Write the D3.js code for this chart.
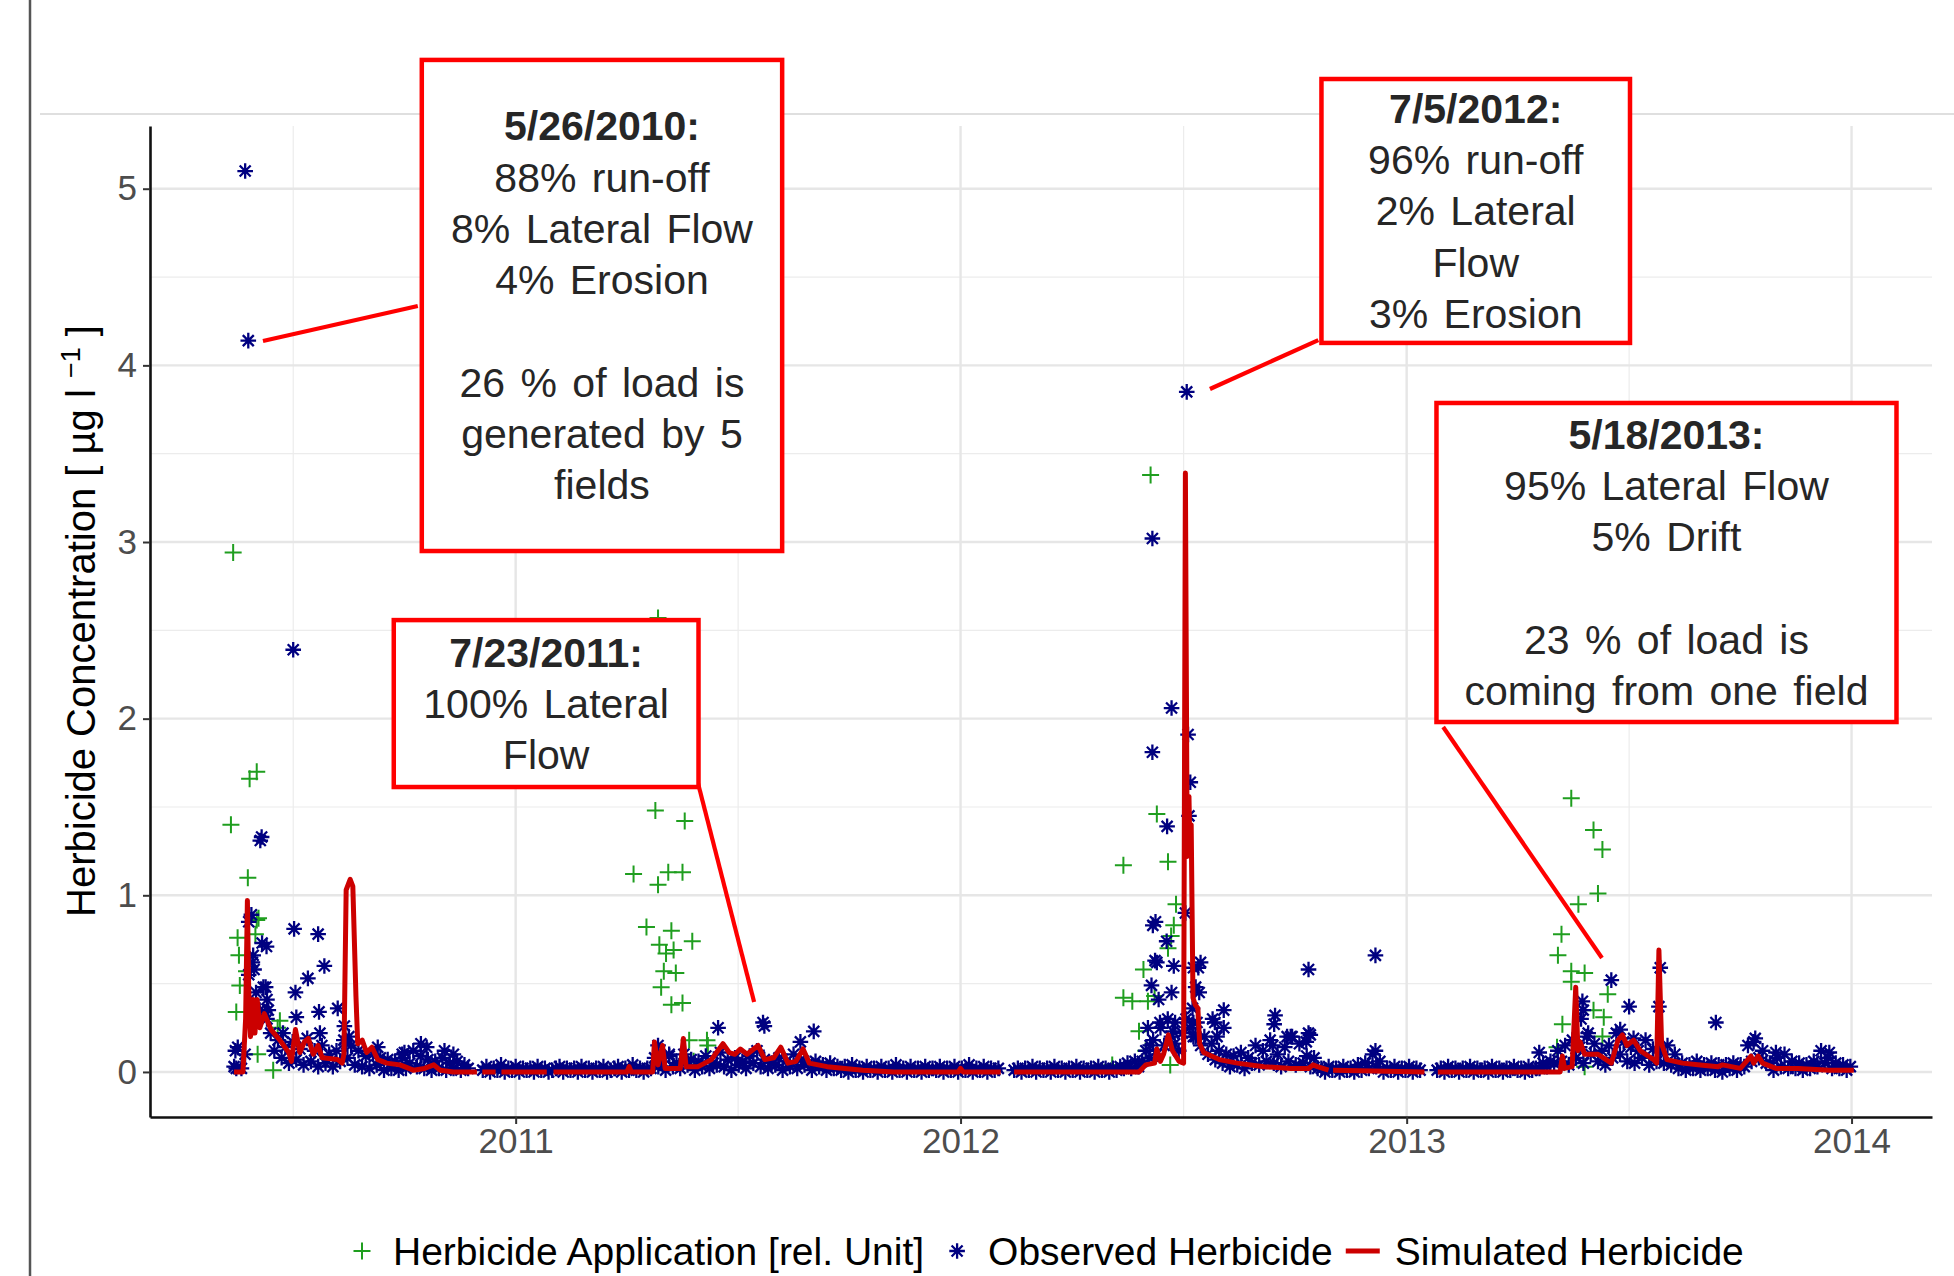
<!DOCTYPE html>
<html>
<head>
<meta charset="utf-8">
<script src="https://cdn.jsdelivr.net/npm/d3@7"></script>
<style>
  body { margin: 0; background: #fff; }
  svg text { font-family: "Liberation Sans", Arial, Helvetica, sans-serif; }
</style>
</head>
<body>
<div class="render"></div>
<script>
// ---- data (decimal years, µg/l) ----
// observed herbicide: isolated points
var obsT = [2010.392,2010.399,2010.500,2010.426,2010.429,2010.406,2010.400,2010.440,2010.410,2010.412,2010.430,2010.438,2010.441,2010.444,
  2010.502,2010.556,2010.570,2010.533,2010.505,2010.558,2010.600,2010.507,2010.477,2010.560,2010.615,2010.625,2010.690,2010.787,2010.800,
  2010.745,2010.860,2010.370,2010.372,2010.436,2010.620,2010.840,2010.750,
  2011.320,2011.455,2011.556,2011.559,2011.670,2011.640,2011.345,
  2012.507,2012.430,2012.473,2012.430,2012.510,2012.515,2012.463,2012.512,2012.504,2012.431,2012.437,2012.462,2012.440,2012.478,2012.533,
  2012.538,2012.428,2012.535,2012.473,2012.444,2012.590,2012.565,2012.705,2012.703,2012.780,2012.930,2012.740,2012.780,2012.930,2012.590,
  2012.436,2012.520,2012.522,2012.527,2012.570,2012.575,2012.447,2012.420,2012.425,2012.476,2012.480,2012.732,2012.700,2012.784,2012.775,
  2012.527,2012.522,
  2013.460,2013.395,2013.397,2013.392,2013.500,2013.570,2013.567,2013.695,2013.408,2013.480,2013.510,2013.298,2013.780,2013.950,2013.830];
var obsV = [5.10,4.14,2.39,1.31,1.33,0.89,0.85,0.71,0.66,0.58,0.73,0.48,0.41,0.35,
  0.81,0.78,0.60,0.53,0.45,0.34,0.36,0.31,0.22,0.22,0.26,0.20,0.14,0.16,0.14,
  0.10,0.10,0.12,0.02,0.34,0.16,0.12,0.11,
  0.15,0.25,0.28,0.26,0.23,0.17,0.10,
  3.85,3.02,2.06,1.81,1.91,1.64,1.39,1.45,0.90,0.83,0.85,0.74,0.62,0.60,0.59,
  0.62,0.49,0.45,0.45,0.41,0.35,0.30,0.32,0.27,0.58,0.66,0.20,0.22,0.12,0.25,
  0.63,0.36,0.28,0.20,0.28,0.20,0.28,0.25,0.15,0.23,0.16,0.20,0.15,0.21,0.17,
  0.48,0.59,
  0.52,0.40,0.35,0.30,0.37,0.59,0.37,0.28,0.22,0.24,0.19,0.11,0.17,0.11,0.11];

// observed herbicide: the dense near-zero band, one reading every 3 days per run
var bandStart = ["2010-05-15", "2010-12-05", "2012-02-14", "2013-01-26"];
var bandStep = 3;
var band1 = [0.03,0.14,0.02,0.10,0.55,0.62,0.45,0.35,0.48,0.30,0.22,0.12,0.18,0.08,0.14,0.05,0.17,0.07,0.13,0.04,
  0.19,0.06,0.12,0.03,0.15,0.05,0.10,0.03,0.12,0.06,0.18,0.08,0.15,0.04,0.12,0.03,0.09,0.02,0.10,0.04,
  0.08,0.01,0.07,0.02,0.06,0.01,0.08,0.02,0.05,0.12,0.03,0.09,0.02,0.07,0.01,0.06,0.02,0.08,0.01,0.05,
  0.02,0.06,0.01,0.04,0.02];
var band2 = [0.01,0.03,0.00,0.02,0.01,0.04,0.00,0.02,0.01,0.03,0.00,0.02,0.01,0.02,0.00,0.03,0.01,0.02,0.00,0.01,
  0.02,0.03,0.00,0.02,0.01,0.02,0.00,0.03,0.01,0.02,0.00,0.02,0.01,0.03,0.00,0.01,0.02,0.03,0.00,0.02,
  0.01,0.04,0.01,0.02,0.00,0.02,
  0.02,0.08,0.03,0.06,0.01,0.09,0.03,0.05,0.02,0.10,0.04,0.07,0.01,0.06,0.03,0.09,0.02,0.05,0.04,0.11,
  0.03,0.07,0.01,0.08,0.04,0.06,0.02,0.09,0.05,0.12,0.03,0.07,0.02,0.05,0.04,0.08,0.01,0.06,0.03,0.10,
  0.02,0.07,0.04,0.05,0.01,0.06,0.03,0.04,0.01,0.05,0.02,0.03,
  0.01,0.03,0.00,0.04,0.01,0.02,0.00,0.03,0.01,0.02,0.00,0.03,0.01,0.02,0.00,0.04,0.01,0.02,0.00,0.03,
  0.01,0.02,0.00,0.03,0.01,0.02,0.01,0.03,0.00,0.02,0.01,0.03,0.00,0.02,0.01,0.04,0.00,0.02,0.01,0.03,
  0.00,0.02,0.01,0.02];
var band3 = [0.01,0.02,0.00,0.02,0.01,0.03,0.00,0.02,0.01,0.02,0.00,0.03,0.01,0.02,0.00,0.02,0.01,0.03,0.00,0.02,
  0.01,0.02,0.00,0.03,0.01,0.02,0.00,0.02,0.01,0.03,0.02,0.05,0.02,0.06,0.03,
  0.06,0.12,0.08,0.18,0.10,0.25,0.15,0.30,0.20,0.28,0.12,0.22,
  0.30,0.25,0.20,0.28,0.15,0.20,0.10,0.16,0.07,0.12,0.05,0.10,
  0.03,0.09,0.04,0.11,0.02,0.08,0.05,0.15,0.04,0.12,0.06,0.18,0.05,0.10,0.03,0.14,0.06,0.20,0.04,0.16,
  0.05,0.09,0.03,0.08,0.02,
  0.02,0.00,0.03,0.01,0.02,0.00,0.03,0.01,0.02,0.00,0.04,0.01,0.05,0.02,0.10,0.03,0.06,0.00,0.02,0.01,
  0.03,0.00,0.02,0.01,0.03,0.00,0.02,0.01];
var band4 = [0.01,0.02,0.00,0.03,0.01,0.02,0.00,0.02,0.01,0.03,0.00,0.02,0.01,0.02,0.00,0.03,0.01,0.02,0.00,0.02,
  0.01,0.03,0.01,0.02,0.00,0.03,0.01,0.02,0.02,0.05,0.03,0.06,
  0.05,0.12,0.06,0.15,0.04,0.18,0.08,0.14,0.05,0.20,0.10,0.16,0.06,0.12,0.04,0.15,0.08,0.22,0.10,0.17,
  0.06,0.14,0.05,0.12,0.08,0.18,0.04,0.13,0.06,0.11,0.05,0.15,0.04,0.10,
  0.02,0.05,0.01,0.04,0.02,0.06,0.01,0.04,0.02,0.05,0.01,0.04,0.00,0.04,0.02,0.05,0.01,0.04,0.03,
  0.15,0.06,0.19,0.08,0.12,0.05,
  0.05,0.01,0.08,0.03,0.10,0.02,0.06,0.02,0.05,0.01,0.04,0.02,0.06,0.03,0.12,0.05,0.08,0.02,0.05,0.02,
  0.04,0.01,0.03];
var bandVals = [band1, band2, band3, band4];

// herbicide application [rel. unit]
var appT = [2010.365,2010.360,2010.402,2010.418,2010.398,2010.375,2010.378,2010.418,2010.422,2010.415,2010.380,2010.372,2010.395,
  2010.470,2010.465,2010.420,2010.455,
  2011.320,2011.314,2011.380,2011.265,2011.320,2011.343,2011.375,2011.294,2011.350,2011.397,2011.323,2011.338,2011.355,2011.333,
  2011.360,2011.327,2011.350,2011.375,2011.390,2011.430,2011.432,2011.400,
  2012.426,2012.365,2012.465,2012.440,2012.483,2012.478,2012.472,2012.465,2012.410,2012.365,2012.385,2012.420,2012.435,2012.400,
  2012.415,2012.470,2012.340,
  2013.370,2013.420,2013.440,2013.430,2013.386,2013.348,2013.340,2013.370,2013.400,2013.370,2013.452,2013.420,2013.443,2013.350,
  2013.338,2013.440,2013.400];
var appV = [2.94,1.40,1.66,1.70,1.10,0.76,0.66,0.86,0.87,0.78,0.49,0.34,0.57,
  0.29,0.25,0.10,0.01,
  2.57,1.48,1.42,1.12,1.06,1.13,1.13,0.82,0.80,0.74,0.72,0.67,0.69,0.57,
  0.56,0.48,0.38,0.39,0.18,0.18,0.15,0.06,
  3.38,1.17,1.19,1.46,0.95,0.83,0.77,0.70,0.58,0.42,0.40,0.40,0.43,0.23,
  0.12,0.04,0.04,
  1.55,1.37,1.26,1.01,0.95,0.78,0.66,0.57,0.56,0.51,0.44,0.35,0.31,0.27,
  0.14,0.20,0.03];

// simulated herbicide (null = gap in the series)
var simT = [2010.367,2010.387,2010.393,2010.397,2010.400,2010.404,2010.410,2010.414,2010.419,2010.425,2010.435,2010.450,2010.470,
  2010.490,2010.496,2010.505,2010.515,2010.525,2010.534,2010.545,2010.556,2010.565,2010.600,2010.610,2010.614,2010.619,2010.628,
  2010.634,2010.641,2010.645,2010.655,2010.665,2010.677,2010.690,2010.710,2010.740,2010.770,2010.795,2010.816,2010.830,2010.860,
  2010.913,null,
  2010.925,2010.955,null,
  2010.968,2011.070,null,
  2011.085,2011.250,2011.255,2011.260,2011.308,2011.312,2011.320,2011.330,2011.336,2011.370,2011.377,2011.383,2011.410,2011.440,
  2011.466,2011.480,2011.493,2011.505,2011.520,2011.545,2011.560,2011.580,2011.596,2011.612,2011.630,2011.646,2011.660,2011.700,
  2011.780,2011.850,2011.995,2012.000,2012.006,2012.090,null,
  2012.120,2012.400,2012.415,2012.435,2012.440,2012.448,2012.455,2012.466,2012.475,2012.490,2012.500,2012.504,2012.508,2012.512,
  2012.514,2012.517,2012.521,2012.526,2012.532,2012.536,2012.545,2012.580,2012.620,2012.680,2012.740,2012.780,2012.790,2012.800,
  2012.825,null,
  2012.835,2013.040,null,
  2013.070,2013.345,2013.350,2013.355,2013.372,2013.380,2013.385,2013.390,2013.400,2013.430,2013.460,2013.475,2013.485,2013.495,
  2013.510,2013.525,2013.555,2013.562,2013.567,2013.573,2013.585,2013.620,2013.660,2013.700,2013.710,2013.750,2013.774,2013.780,
  2013.790,2013.800,2013.830,2013.880,2013.950,2014.005];
var simV = [0.00,0.00,0.30,0.97,0.46,0.20,0.41,0.22,0.41,0.25,0.33,0.24,0.18,
  0.11,0.06,0.24,0.11,0.17,0.19,0.10,0.15,0.08,0.07,0.05,0.10,1.03,1.09,
  1.05,0.43,0.16,0.18,0.11,0.14,0.07,0.05,0.04,0.01,0.02,0.04,0.01,0.00,
  0.00,null,
  0.00,0.00,null,
  0.00,0.00,null,
  0.00,0.00,0.03,0.00,0.00,0.17,0.04,0.15,0.02,0.02,0.19,0.03,0.03,0.07,
  0.16,0.11,0.10,0.13,0.10,0.15,0.07,0.08,0.14,0.05,0.06,0.13,0.05,0.03,
  0.01,0.00,0.00,0.02,0.00,0.00,null,
  0.00,0.00,0.04,0.05,0.13,0.06,0.10,0.21,0.12,0.06,0.05,3.39,1.22,1.56,
  1.28,1.40,0.42,0.38,0.36,0.16,0.11,0.07,0.05,0.03,0.02,0.02,0.04,0.03,
  0.01,null,
  0.01,0.00,null,
  0.00,0.00,0.09,0.02,0.03,0.48,0.12,0.17,0.10,0.10,0.05,0.18,0.21,0.15,
  0.18,0.12,0.07,0.05,0.69,0.16,0.07,0.05,0.04,0.03,0.04,0.02,0.09,0.05,
  0.09,0.05,0.02,0.02,0.01,0.01];

var yTicks = [0, 1, 2, 3, 4, 5];
var yMinor = [0.5, 1.5, 2.5, 3.5, 4.5];
var xTicks = [2011, 2012, 2013, 2014];
var xMinor = [2010.5, 2011.5, 2012.5, 2013.5];

// annotations: box corners and callout ends in data units
var annX0 = [2010.789, 2010.726, 2012.809, 2013.067];
var annX1 = [2011.599, 2011.411, 2013.502, 2014.101];
var annTop = [5.729, 2.558, 5.621, 3.787];
var annBottom = [2.949, 1.613, 4.127, 1.981];
var annText = [
  ["5/26/2010:", "88% run-off", "8% Lateral Flow", "4% Erosion", "", "26 % of load is", "generated by 5", "fields"],
  ["7/23/2011:", "100% Lateral", "Flow"],
  ["7/5/2012:", "96% run-off", "2% Lateral", "Flow", "3% Erosion"],
  ["5/18/2013:", "95% Lateral Flow", "5% Drift", "", "23 % of load is", "coming from one field"]
];
var callT0 = [2010.780, 2011.408, 2012.802, 2013.082];
var callV0 = [4.336, 1.653, 4.143, 1.953];
var callT1 = [2010.432, 2011.536, 2012.559, 2013.439];
var callV1 = [4.138, 0.396, 3.866, 0.645];

var legendLabels = ["Herbicide Application [rel. Unit]", "Observed Herbicide", "Simulated Herbicide"];

// ---- drawing ----
var W = 1954, H = 1276;
var green = "#1f9e1f", navy = "#000080", simRed = "#cc0000", callRed = "#ff0000";

function yr(t) {
  var y0 = Math.floor(t);
  var a = new Date(y0, 0, 1), b = new Date(y0 + 1, 0, 1);
  return new Date(+a + (t - y0) * (b - a));
}

var x = d3.scaleTime().domain([new Date(2010, 2, 7), new Date(2014, 2, 8)]).range([150, 1932]);
var y = d3.scaleLinear().domain([-0.255, 5.355]).range([1117, 126]);

var svg = d3.select(".render").append("svg").attr("width", W).attr("height", H);
svg.append("rect").attr("width", W).attr("height", H).attr("fill", "#fff");

// slide frame
svg.append("line").attr("x1", 30).attr("x2", 30).attr("y1", 0).attr("y2", H).attr("stroke", "#555").attr("stroke-width", 2.5);
svg.append("line").attr("x1", 40).attr("x2", W).attr("y1", 114).attr("y2", 114).attr("stroke", "#d4d4d4").attr("stroke-width", 1.5);

// grid
var grid = svg.append("g");
grid.selectAll(".ymin").data(yMinor).enter().append("line")
  .attr("x1", 150).attr("x2", 1932).attr("y1", function (d) { return y(d); }).attr("y2", function (d) { return y(d); })
  .attr("stroke", "#ececec").attr("stroke-width", 1.2);
grid.selectAll(".xmin").data(xMinor).enter().append("line")
  .attr("y1", 126).attr("y2", 1117).attr("x1", function (d) { return x(yr(d)); }).attr("x2", function (d) { return x(yr(d)); })
  .attr("stroke", "#ececec").attr("stroke-width", 1.2);
grid.selectAll(".ymaj").data(yTicks).enter().append("line")
  .attr("x1", 150).attr("x2", 1932).attr("y1", function (d) { return y(d); }).attr("y2", function (d) { return y(d); })
  .attr("stroke", "#e6e6e6").attr("stroke-width", 2.4);
grid.selectAll(".xmaj").data(xTicks).enter().append("line")
  .attr("y1", 126).attr("y2", 1117).attr("x1", function (d) { return x(yr(d)); }).attr("x2", function (d) { return x(yr(d)); })
  .attr("stroke", "#e6e6e6").attr("stroke-width", 2.4);

// axes
var yAxis = d3.axisLeft(y).tickValues(yTicks).tickFormat(d3.format("d")).tickSizeInner(7).tickSizeOuter(0).tickPadding(6);
var xAxis = d3.axisBottom(x).tickValues(xTicks.map(yr)).tickFormat(d3.timeFormat("%Y")).tickSizeInner(7).tickSizeOuter(0).tickPadding(4);
var gy = svg.append("g").attr("transform", "translate(150,0)").call(yAxis);
var gx = svg.append("g").attr("transform", "translate(0,1117)").call(xAxis);
[gx, gy].forEach(function (g) {
  g.select(".domain").attr("stroke", "#111").attr("stroke-width", 2.6);
  g.selectAll(".tick line").attr("stroke", "#333").attr("stroke-width", 2);
  g.selectAll(".tick text").attr("fill", "#4d4d4d").style("font-size", "35px")
    .style("font-family", "'Liberation Sans', Arial, sans-serif");
});

// y title
var yt = svg.append("text").attr("transform", "translate(95,621) rotate(-90)").attr("text-anchor", "middle")
  .style("font-size", "40px").attr("fill", "#000");
yt.append("tspan").text("Herbicide Concentration [ \u00b5g l ");
yt.append("tspan").text("\u22121").style("font-size", "27px").attr("dy", -15);
yt.append("tspan").text(" ]").style("font-size", "40px").attr("dy", 15);

// series
var appData = appT.map(function (t, i) { return { date: yr(t), v: appV[i] }; });
var obsData = obsT.map(function (t, i) { return { date: yr(t), v: obsV[i] }; });
var parseDay = d3.timeParse("%Y-%m-%d");
bandVals.forEach(function (vals, s) {
  var start = parseDay(bandStart[s]);
  vals.forEach(function (v, i) {
    obsData.push({ date: d3.timeDay.offset(start, i * bandStep), v: v });
  });
});
var simData = simT.map(function (t, i) { return { date: t === null ? null : yr(t), v: simV[i] }; });

var plusPath = "M-8.5,0H8.5M0,-8.5V8.5";
var starPath = "M-7.8,0H7.8M0,-7.8V7.8M-5.5,-5.5L5.5,5.5M-5.5,5.5L5.5,-5.5";

svg.append("g").selectAll("path").data(appData).enter().append("path")
  .attr("transform", function (d) { return "translate(" + x(d.date) + "," + y(d.v) + ")"; })
  .attr("d", plusPath).attr("fill", "none").attr("stroke", green).attr("stroke-width", 2);

svg.append("g").selectAll("path").data(obsData).enter().append("path")
  .attr("transform", function (d) { return "translate(" + x(d.date) + "," + y(d.v) + ")"; })
  .attr("d", starPath).attr("fill", "none").attr("stroke", navy).attr("stroke-width", 2.3);

var simLine = d3.line()
  .defined(function (d) { return d.v !== null; })
  .x(function (d) { return x(d.date); })
  .y(function (d) { return y(d.v); });
svg.append("path").datum(simData).attr("d", simLine).attr("fill", "none")
  .attr("stroke", simRed).attr("stroke-width", 5).attr("stroke-linejoin", "round").attr("stroke-linecap", "butt");

// callouts
var ann = svg.append("g");
callT0.forEach(function (t, i) {
  ann.append("line")
    .attr("x1", x(yr(t))).attr("y1", y(callV0[i]))
    .attr("x2", x(yr(callT1[i]))).attr("y2", y(callV1[i]))
    .attr("stroke", callRed).attr("stroke-width", 4.2);
});
var lineH = 51.3;
annText.forEach(function (lines, i) {
  var bx0 = x(yr(annX0[i])), bx1 = x(yr(annX1[i]));
  var by0 = y(annTop[i]), by1 = y(annBottom[i]);
  ann.append("rect").attr("x", bx0).attr("y", by0).attr("width", bx1 - bx0).attr("height", by1 - by0)
    .attr("fill", "#fff").attr("stroke", callRed).attr("stroke-width", 4.5);
  var cx = (bx0 + bx1) / 2;
  var first = (by0 + by1) / 2 - (lines.length - 1) * lineH / 2;
  lines.forEach(function (s, k) {
    if (!s) return;
    ann.append("text").attr("x", cx).attr("y", first + k * lineH).attr("dy", "0.35em")
      .attr("text-anchor", "middle").attr("fill", "#262626")
      .style("font-size", "41px").style("word-spacing", "4px")
      .style("font-weight", k === 0 ? "bold" : "normal")
      .text(s);
  });
});

// legend
var leg = svg.append("g");
var ly = 1251, lx = 362;
leg.append("path").attr("transform", "translate(" + lx + "," + ly + ")").attr("d", plusPath)
  .attr("fill", "none").attr("stroke", green).attr("stroke-width", 2);
var t1 = leg.append("text").attr("x", lx + 31).attr("y", ly).attr("dy", "0.36em").style("font-size", "39px").text(legendLabels[0]);
lx = lx + 31 + t1.node().getComputedTextLength() + 33;
leg.append("path").attr("transform", "translate(" + lx + "," + ly + ")").attr("d", starPath)
  .attr("fill", "none").attr("stroke", navy).attr("stroke-width", 2.3);
var t2 = leg.append("text").attr("x", lx + 31).attr("y", ly).attr("dy", "0.36em").style("font-size", "39px").text(legendLabels[1]);
lx = lx + 31 + t2.node().getComputedTextLength() + 30;
leg.append("line").attr("x1", lx - 17).attr("x2", lx + 17).attr("y1", ly).attr("y2", ly)
  .attr("stroke", simRed).attr("stroke-width", 5);
leg.append("text").attr("x", lx + 32).attr("y", ly).attr("dy", "0.36em").style("font-size", "39px").text(legendLabels[2]);
</script>
</body>
</html>
